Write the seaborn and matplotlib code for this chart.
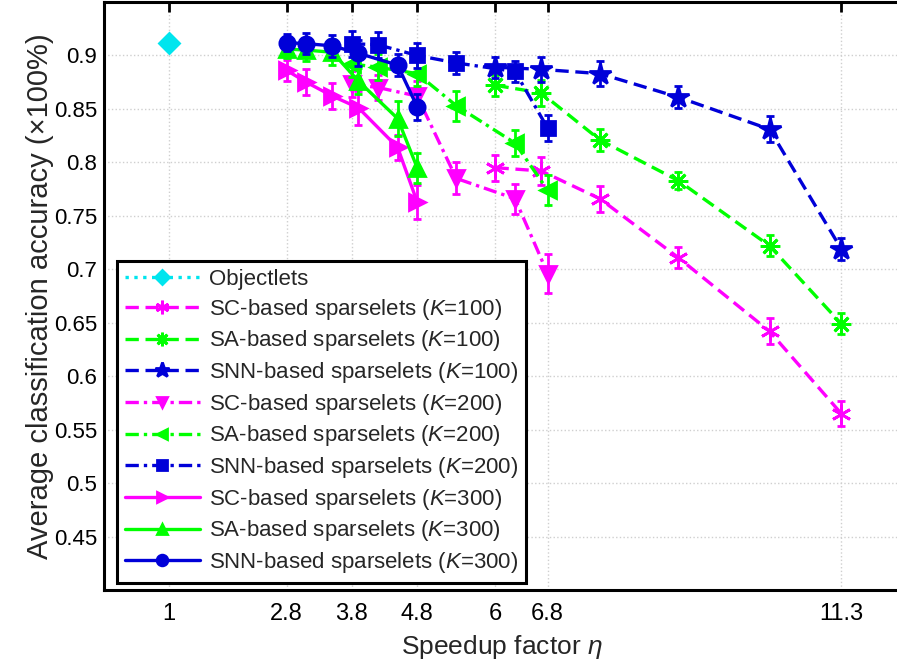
import numpy as np
import pandas as pd
import matplotlib
matplotlib.use("Agg")
import matplotlib.pyplot as plt
import seaborn as sns

# x positions (speedup factor) for each dictionary size
x_obj = [1.0]
x_k100 = [6.0, 6.7, 7.6, 8.8, 10.2, 11.3]
x_k200 = [3.8, 4.2, 4.8, 5.4, 6.3, 6.8]
x_k300 = [2.8, 3.1, 3.5, 3.9, 4.5, 4.8]

# average accuracy
y_obj = [0.912]
sc100 = [0.795, 0.792, 0.766, 0.711, 0.642, 0.565]
sa100 = [0.872, 0.865, 0.821, 0.783, 0.722, 0.649]
snn100 = [0.889, 0.887, 0.883, 0.861, 0.831, 0.719]
sc200 = [0.873, 0.870, 0.862, 0.785, 0.766, 0.696]
sa200 = [0.892, 0.889, 0.883, 0.853, 0.818, 0.774]
snn200 = [0.911, 0.910, 0.900, 0.893, 0.885, 0.832]
sc300 = [0.886, 0.875, 0.862, 0.851, 0.814, 0.763]
sa300 = [0.906, 0.905, 0.903, 0.876, 0.841, 0.795]
snn300 = [0.912, 0.911, 0.909, 0.902, 0.891, 0.852]

# error bar half-widths
e_sc100 = [0.012, 0.013, 0.012, 0.010, 0.012, 0.012]
e_sa100 = [0.010, 0.012, 0.010, 0.008, 0.010, 0.010]
e_snn100 = [0.010, 0.012, 0.012, 0.010, 0.012, 0.010]
e_sc200 = [0.012, 0.012, 0.014, 0.015, 0.014, 0.018]
e_sa200 = [0.012, 0.012, 0.012, 0.014, 0.012, 0.014]
e_snn200 = [0.012, 0.012, 0.012, 0.010, 0.010, 0.012]
e_sc300 = [0.010, 0.012, 0.012, 0.016, 0.012, 0.016]
e_sa300 = [0.008, 0.010, 0.012, 0.012, 0.016, 0.014]
e_snn300 = [0.008, 0.010, 0.010, 0.012, 0.010, 0.012]

xticks = [1, 2.8, 3.8, 4.8, 6, 6.8, 11.3]
xtick_labels = ["1", "2.8", "3.8", "4.8", "6", "6.8", "11.3"]
yticks = [0.45, 0.5, 0.55, 0.6, 0.65, 0.7, 0.75, 0.8, 0.85, 0.9]

MAG = "#FF00FF"
GRN = "#00FF00"
BLU = "#0000D8"
CYN = "#00E5EE"

sns.set_style("white")
plt.rcParams["font.family"] = ["Liberation Sans", "DejaVu Sans"]
plt.rcParams["mathtext.fontset"] = "custom"
plt.rcParams["mathtext.it"] = "Liberation Sans:italic"
plt.rcParams["mathtext.rm"] = "Liberation Sans"

fig = plt.figure(figsize=(8.97, 6.68), dpi=100)
ax = fig.add_axes([104 / 897, 78 / 668, 796 / 897, 588 / 668])

# (label, x, y, err, color, linestyle, marker, markersize)
series = [
    ("Objectlets", x_obj, y_obj, None, CYN, ":", "D", 10),
    ("SC-based sparselets ($K$=100)", x_k100, sc100, e_sc100, MAG, (0, (4, 2)), (6, 2, 0), 14),
    ("SA-based sparselets ($K$=100)", x_k100, sa100, e_sa100, GRN, (0, (4, 2)), (8, 2, 0), 14),
    ("SNN-based sparselets ($K$=100)", x_k100, snn100, e_snn100, BLU, (0, (4, 2)), "*", 16),
    ("SC-based sparselets ($K$=200)", x_k200, sc200, e_sc200, MAG, (0, (4, 1.5, 1, 1.5)), "v", 11),
    ("SA-based sparselets ($K$=200)", x_k200, sa200, e_sa200, GRN, (0, (4, 1.5, 1, 1.5)), "<", 11),
    ("SNN-based sparselets ($K$=200)", x_k200, snn200, e_snn200, BLU, (0, (4, 1.5, 1, 1.5)), "s", 10),
    ("SC-based sparselets ($K$=300)", x_k300, sc300, e_sc300, MAG, "-", ">", 11),
    ("SA-based sparselets ($K$=300)", x_k300, sa300, e_sa300, GRN, "-", "^", 11),
    ("SNN-based sparselets ($K$=300)", x_k300, snn300, e_snn300, BLU, "-", "o", 11),
]

for i, (label, xs, ys, es, col, ls, mk, ms) in enumerate(series):
    df = pd.DataFrame({"x": xs, "y": ys})
    sns.lineplot(data=df, x="x", y="y", ax=ax, color=col, linestyle=ls,
                 linewidth=2.4, marker=mk, markersize=ms, markeredgecolor=col,
                 markeredgewidth=2, label=label, zorder=3 + i)
    if es is not None:
        ax.errorbar(xs, ys, yerr=es, fmt="none", ecolor=col, elinewidth=2,
                    capsize=3, capthick=2, zorder=3 + i)

ax.set_xlim(0, 12.2)
ax.set_ylim(0.4, 0.95)
ax.set_xticks(xticks)
ax.set_xticklabels(xtick_labels)
ax.set_yticks(yticks)
ax.set_yticklabels([f"{v:g}" for v in yticks])
ax.tick_params(axis="both", direction="in", length=7, width=2, labelsize=16,
               top=True, right=False, colors="black")
ax.tick_params(axis="x", pad=9, labelsize=17)
ax.tick_params(axis="y", pad=5)
ax.grid(True, color="#cfcfcf", linestyle=":", linewidth=1)
for s in ax.spines.values():
    s.set_linewidth(2.2)
    s.set_color("black")
ax.spines["right"].set_visible(False)

ax.set_xlabel(r"Speedup factor $\eta$", fontsize=19, labelpad=6)
ax.set_ylabel("Average classification accuracy (×100%)", fontsize=21, labelpad=0)

leg = ax.legend(loc="lower left", bbox_to_anchor=(0.016, 0.012), fontsize=16,
                frameon=True, fancybox=False, edgecolor="black",
                handlelength=3.4, handletextpad=0.4, labelspacing=0.3,
                borderpad=0.35, borderaxespad=0, markerscale=0.7)
leg.get_frame().set_linewidth(2.2)
leg.get_frame().set_alpha(1)

fig.savefig("out.png", dpi=100)
